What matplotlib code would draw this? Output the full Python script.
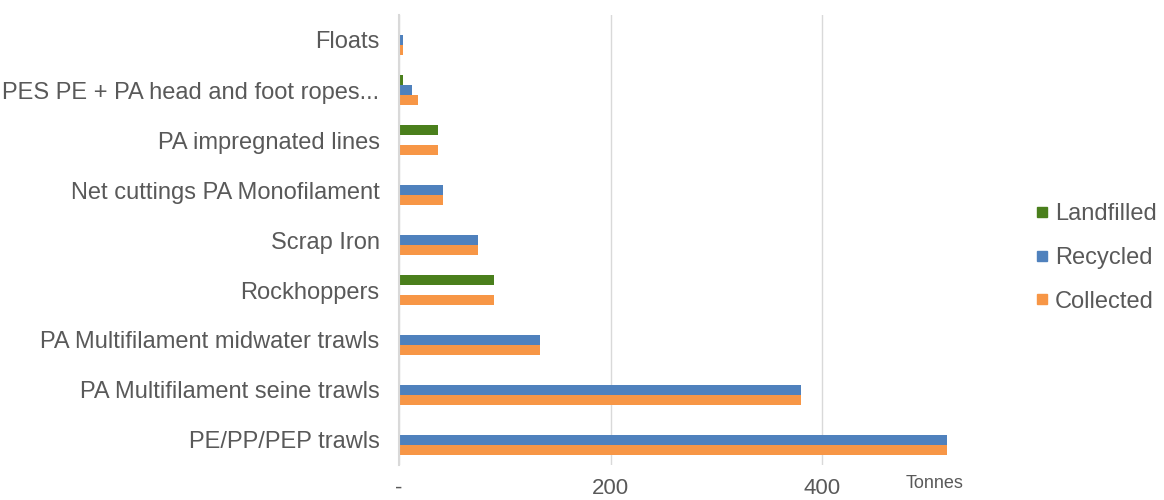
import matplotlib
matplotlib.use("Agg")
import numpy as np
import matplotlib.pyplot as plt
from matplotlib.lines import Line2D

plt.rcParams["font.family"] = ["Liberation Sans", "DejaVu Sans"]

# datos (toneladas), de abajo hacia arriba
categories = ["PE/PP/PEP trawls", "PA Multifilament seine trawls",
              "PA Multifilament midwater trawls", "Rockhoppers", "Scrap Iron",
              "Net cuttings PA Monofilament", "PA impregnated lines",
              "PES PE + PA head and foot ropes...", "Floats"]
collected = [518, 380, 133, 90, 75, 42, 37, 18, 4]
recycled = [518, 380, 133, 0, 75, 42, 0, 12, 4]
landfilled = [0, 0, 0, 90, 0, 0, 37, 4, 0]
xticks = [0, 200, 400]
xtick_labels = ["-", "200", "400"]

green, blue, orange = "#4a7f1c", "#4f81bd", "#f79646"
grey = "#595959"

fig = plt.figure(figsize=(11.64, 5.0), dpi=100)
ax = fig.add_axes([0.3428, 0.07, 0.5, 0.90])

y = np.arange(len(categories))
h = 0.2
ax.barh(y - h, collected, height=h, color=orange, label="Collected")
ax.barh(y, recycled, height=h, color=blue, label="Recycled")
ax.barh(y + h, landfilled, height=h, color=green, label="Landfilled")

ax.set_xlim(0, 550)
ax.set_ylim(-0.5, 8.5)
ax.set_yticks(y)
ax.set_yticklabels(categories, fontsize=17, color=grey)
ax.set_xticks(xticks)
ax.set_xticklabels(xtick_labels, fontsize=16, color=grey)
ax.tick_params(axis="y", length=0, pad=14)
ax.tick_params(axis="x", length=0, pad=9)

for s in ["top", "right", "bottom"]:
    ax.spines[s].set_visible(False)
ax.spines["left"].set_color("#d9d9d9")
ax.spines["left"].set_linewidth(1.5)
ax.grid(axis="x", color="#d9d9d9", linewidth=1)
ax.set_axisbelow(True)

fig.text(0.778, 0.025, "Tonnes", fontsize=13, color=grey)

handles = [Line2D([], [], marker="s", linestyle="none", markersize=7.5, color=c)
           for c in (green, blue, orange)]
fig.legend(handles, ["Landfilled", "Recycled", "Collected"],
           loc="center left", bbox_to_anchor=(0.889, 0.484), frameon=False,
           fontsize=17, labelcolor=grey, handletextpad=0.25, labelspacing=0.92,
           handlelength=0.6, borderaxespad=0, borderpad=0)

fig.savefig("out.png", dpi=100)
